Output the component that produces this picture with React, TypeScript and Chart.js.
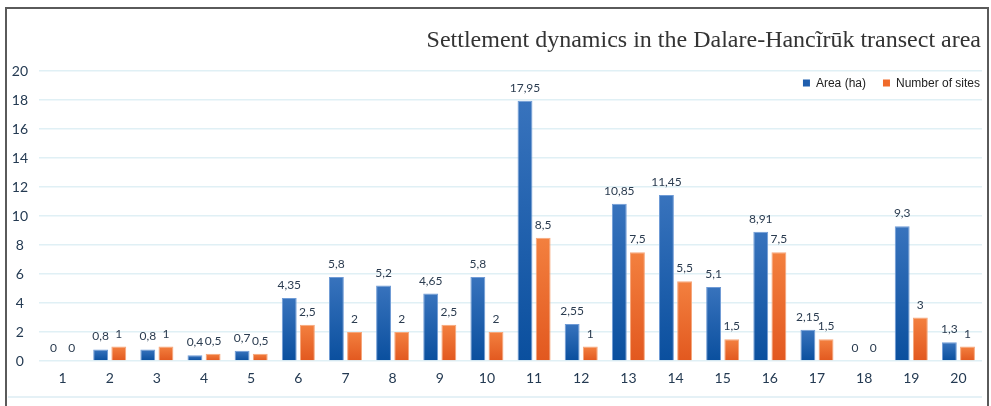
import React, { useEffect, useRef } from "react";
import { Chart, registerables } from "chart.js";

Chart.register(...registerables);

const categories = ["1", "2", "3", "4", "5", "6", "7", "8", "9", "10", "11", "12", "13", "14", "15", "16", "17", "18", "19", "20"];
const areaValues = [0, 0.8, 0.8, 0.4, 0.7, 4.35, 5.8, 5.2, 4.65, 5.8, 17.95, 2.55, 10.85, 11.45, 5.1, 8.91, 2.15, 0, 9.3, 1.3];
const siteValues = [0, 1, 1, 0.5, 0.5, 2.5, 2, 2, 2.5, 2, 8.5, 1, 7.5, 5.5, 1.5, 7.5, 1.5, 0, 3, 1];
const seriesNames = ["Area (ha)", "Number of sites"];
const titleText = "Settlement dynamics in the Dalare-Hancĩrūk transect area";

const BLUE_TOP = "#3873bd";
const BLUE_BOTTOM = "#0a4f9e";
const ORANGE_TOP = "#f3803f";
const ORANGE_BOTTOM = "#e2581f";

function gradientFill(top: string, bottom: string) {
  return (ctx: any) => {
    const chart = ctx.chart;
    const y = chart.scales && chart.scales.y;
    if (!y || ctx.raw === undefined) return bottom;
    const yTop = y.getPixelForValue(ctx.raw);
    const yBot = y.getPixelForValue(0);
    if (!isFinite(yTop) || !isFinite(yBot) || Math.abs(yBot - yTop) < 1) return bottom;
    const g = chart.ctx.createLinearGradient(0, yTop, 0, yBot);
    g.addColorStop(0, top);
    g.addColorStop(1, bottom);
    return g;
  };
}

const framePlugin = {
  id: "frame",
  beforeDraw(chart: any) {
    const c = chart.ctx;
    c.save();
    c.fillStyle = "#ffffff";
    c.fillRect(0, 0, chart.width, chart.height);
    c.strokeStyle = "#5a5a5a";
    c.lineWidth = 2;
    c.beginPath();
    c.moveTo(6, 420);
    c.lineTo(6, 8);
    c.lineTo(988, 8);
    c.lineTo(988, 420);
    c.stroke();
    c.strokeStyle = "#dcedf3";
    c.lineWidth = 1.5;
    c.beginPath();
    c.moveTo(8, 397);
    c.lineTo(982, 397);
    c.stroke();
    c.restore();
  },
};

const textPlugin = {
  id: "texts",
  afterDatasetsDraw(chart: any) {
    const c = chart.ctx;
    c.save();
    // data labels
    c.font = "12px Lato";
    c.fillStyle = "#2b3c50";
    c.textAlign = "center";
    c.textBaseline = "alphabetic";
    chart.data.datasets.forEach((ds: any, i: number) => {
      const meta = chart.getDatasetMeta(i);
      meta.data.forEach((bar: any, j: number) => {
        const v = ds.data[j];
        c.fillText(String(v).replace(".", ","), bar.x, bar.y - 9);
      });
    });
    // title
    c.font = "24px 'Liberation Serif'";
    c.fillStyle = "#333333";
    c.textAlign = "right";
    c.textBaseline = "middle";
    c.fillText(titleText, 981, 41);
    // legend
    c.font = "12px 'Liberation Sans'";
    c.textBaseline = "middle";
    c.textAlign = "left";
    const ly = 83;
    let x = 980;
    const items: any[] = [];
    for (let i = seriesNames.length - 1; i >= 0; i--) {
      const w = c.measureText(seriesNames[i]).width;
      x -= w;
      const it: any = { i, tx: x };
      x -= 6 + 7;
      it.bx = x;
      items.push(it);
      x -= 17;
    }
    items.forEach((it) => {
      c.fillStyle = it.i === 0 ? "#1f5eae" : "#f06a2a";
      c.fillRect(it.bx, ly - 3.5, 7, 7);
      c.fillStyle = "#222222";
      c.fillText(seriesNames[it.i], it.tx, ly + 0.5);
    });
    c.restore();
  },
};

export default function App() {
  const ref = useRef<HTMLCanvasElement>(null);
  useEffect(() => {
    const canvas = ref.current;
    if (!canvas) return;
    const chart = new Chart(canvas, {
      type: "bar",
      data: {
        labels: categories,
        datasets: [
          {
            label: seriesNames[0],
            data: areaValues,
            backgroundColor: gradientFill(BLUE_TOP, BLUE_BOTTOM),
            borderColor: "#6f9bd6",
            borderWidth: 1,
            categoryPercentage: 0.77,
            barPercentage: 0.82,
          },
          {
            label: seriesNames[1],
            data: siteValues,
            backgroundColor: gradientFill(ORANGE_TOP, ORANGE_BOTTOM),
            borderColor: "#f6a67a",
            borderWidth: 1,
            categoryPercentage: 0.77,
            barPercentage: 0.82,
          },
        ],
      },
      options: {
        animation: false,
        responsive: false,
        maintainAspectRatio: false,
        layout: { padding: { top: 71, right: 9, left: 0, bottom: 0 } },
        plugins: {
          legend: { display: false },
          title: { display: false },
          tooltip: { enabled: false },
        },
        scales: {
          x: {
            grid: { display: false, drawTicks: false },
            border: { display: false },
            ticks: { color: "#243a52", font: { family: "Lato", size: 14 }, padding: 9, maxRotation: 0 },
            afterFit: (s: any) => {
              s.height = 45;
            },
          },
          y: {
            min: 0,
            max: 20,
            grid: { color: "#e0f0f5", lineWidth: 1.5, drawTicks: false },
            border: { display: false },
            ticks: {
              stepSize: 2,
              color: "#243a52",
              font: { family: "Lato", size: 14 },
              padding: 11,
              crossAlign: "center",
            },
            afterFit: (s: any) => {
              s.width = 39;
            },
          },
        },
      },
      plugins: [framePlugin, textPlugin],
    });
    return () => chart.destroy();
  }, []);
  return (
    <div style={{ position: "absolute", left: 0, top: 0, width: 991, height: 406 }}>
      <canvas ref={ref} width={991} height={406} style={{ display: "block" }} />
    </div>
  );
}
